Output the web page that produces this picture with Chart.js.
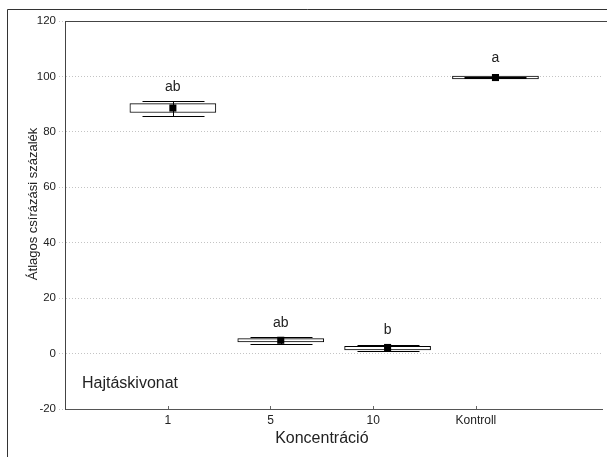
<!DOCTYPE html>
<html>
<head>
<meta charset="utf-8">
<script src="https://cdn.jsdelivr.net/npm/chart.js@4.4.1/dist/chart.umd.min.js"></script>
<style>
    html, body { margin: 0; padding: 0; background: #fff; overflow: hidden; }
</style>
</head>
<body>
<canvas id="grafica" width="607" height="457"></canvas>
<script>
// Datos
const categorias = ['1', '5', '10', 'Kontroll'];
const posTicks = [1, 2, 3, 4];
const posCajas = [1.05, 2.1, 3.14, 4.19];   // las cajas están algo corridas respecto a los ticks
const medias = [88.6, 4.8, 2.2, 99.6];
const cajaBaja = [87.0, 4.2, 1.3, 99.1];
const cajaAlta = [90.2, 5.4, 2.6, 100.1];
const bigoteBajo = [85.8, 3.6, 0.8, 99.3];
const bigoteAlto = [91.3, 6.0, 3.1, 99.9];
const letras = ['ab', 'ab', 'b', 'a'];
const letrasY = [96, 11, 8.5, 106.5];
const ticksY = [-20, 0, 20, 40, 60, 80, 100, 120];

const FUENTE = 'Arial, "Liberation Sans", sans-serif';

// Plugin para marco, bigotes, letras y títulos
const dibujosExtra = {
    id: 'dibujosExtra',
    beforeDraw(chart) {
        const ctx = chart.ctx;
        ctx.save();
        ctx.strokeStyle = '#333';
        ctx.lineWidth = 1;
        ctx.beginPath();
        ctx.moveTo(7.5, 457);
        ctx.lineTo(7.5, 9.5);
        ctx.lineTo(607, 9.5);
        ctx.stroke();
        ctx.restore();
    },
    afterDatasetDraw(chart, args) {
        if (args.index !== 1) return; // después de las cajas, antes de las medias
        const ctx = chart.ctx;
        const xs = chart.scales.x, ys = chart.scales.y;
        ctx.save();
        ctx.strokeStyle = '#000';
        ctx.lineWidth = 1;
        posCajas.forEach((p, i) => {
            const cx = Math.round(xs.getPixelForValue(p)) + 0.5;
            const yA = Math.round(ys.getPixelForValue(bigoteAlto[i])) + 0.5;
            const yB = Math.round(ys.getPixelForValue(bigoteBajo[i])) + 0.5;
            ctx.beginPath();
            ctx.moveTo(cx - 31, yA); ctx.lineTo(cx + 31, yA);
            ctx.moveTo(cx - 31, yB); ctx.lineTo(cx + 31, yB);
            ctx.moveTo(cx, yA); ctx.lineTo(cx, yB);
            ctx.stroke();
        });
        ctx.restore();
    },
    afterDraw(chart) {
        const ctx = chart.ctx;
        const xs = chart.scales.x, ys = chart.scales.y;
        const area = chart.chartArea;
        ctx.save();

        // línea superior del área
        ctx.strokeStyle = '#444';
        ctx.lineWidth = 1;
        ctx.beginPath();
        ctx.moveTo(area.left, Math.round(area.top) + 0.5);
        ctx.lineTo(chart.width, Math.round(area.top) + 0.5);
        ctx.stroke();

        // ticks del eje x hacia adentro
        ctx.strokeStyle = '#666';
        posTicks.forEach(v => {
            const x = Math.round(xs.getPixelForValue(v)) + 0.5;
            ctx.beginPath();
            ctx.moveTo(x, area.bottom);
            ctx.lineTo(x, area.bottom - 3);
            ctx.stroke();
        });

        // letras de significancia
        ctx.fillStyle = '#222';
        ctx.textAlign = 'center';
        ctx.textBaseline = 'middle';
        ctx.font = '14px ' + FUENTE;
        letras.forEach((t, i) => {
            ctx.fillText(t, xs.getPixelForValue(posCajas[i]), ys.getPixelForValue(letrasY[i]));
        });

        // rótulo dentro del gráfico
        ctx.textAlign = 'left';
        ctx.font = '16px ' + FUENTE;
        ctx.fillText('Hajtáskivonat', area.left + 17, ys.getPixelForValue(-10.8));

        // título eje x
        ctx.textAlign = 'center';
        ctx.fillText('Koncentráció', xs.getPixelForValue(2.5), 439);

        // título eje y
        ctx.translate(33, ys.getPixelForValue(54));
        ctx.rotate(-Math.PI / 2);
        ctx.font = '13px ' + FUENTE;
        ctx.fillText('Átlagos csírázási százalék', 0, 0);
        ctx.restore();
    }
};

const ctx = document.getElementById('grafica').getContext('2d');
const chartInstance = new Chart(ctx, {
    type: 'bar',
    data: {
        datasets: [
            {
                type: 'scatter',
                label: 'Átlag',
                data: posCajas.map((p, i) => ({ x: p, y: medias[i] })),
                pointStyle: 'rect',
                pointRadius: 5,
                pointBorderWidth: 0,
                backgroundColor: '#000',
                borderColor: '#000'
            },
            {
                type: 'bar',
                label: 'Doboz',
                data: posCajas.map((p, i) => ({ x: p, y: [cajaBaja[i], cajaAlta[i]] })),
                backgroundColor: '#fff',
                borderColor: '#000',
                borderWidth: 1,
                borderSkipped: false,
                barThickness: 86,
                grouped: false
            }
        ]
    },
    options: {
        responsive: false,
        animation: false,
        layout: { padding: { top: 21, right: 0, bottom: 0, left: 0 } },
        plugins: {
            legend: { display: false },
            tooltip: { enabled: false }
        },
        scales: {
            x: {
                type: 'linear',
                min: 0,
                max: 5.227,
                offset: false,
                afterBuildTicks: s => { s.ticks = posTicks.map(v => ({ value: v })); },
                afterFit: s => { s.height = 48; },
                grid: { display: false, drawTicks: false, offset: false },
                border: { display: true, color: '#555', width: 1 },
                ticks: {
                    autoSkip: false,
                    maxRotation: 0,
                    padding: 4,
                    color: '#222',
                    font: { family: FUENTE, size: 12 },
                    callback: v => categorias[posTicks.indexOf(v)] ?? ''
                }
            },
            y: {
                min: -20,
                max: 120,
                afterBuildTicks: s => { s.ticks = ticksY.map(v => ({ value: v })); },
                afterFit: s => { s.width = 65; },
                grid: {
                    color: '#c4c4c4',
                    tickLength: 6,
                    tickColor: '#c4c4c4',
                    tickBorderDash: [1, 2]
                },
                border: { display: true, color: '#444', width: 1, dash: [1, 2] },
                ticks: {
                    padding: 3,
                    color: '#222',
                    font: { family: FUENTE, size: 11.5 }
                }
            }
        }
    },
    plugins: [dibujosExtra]
});
</script>
</body>
</html>
